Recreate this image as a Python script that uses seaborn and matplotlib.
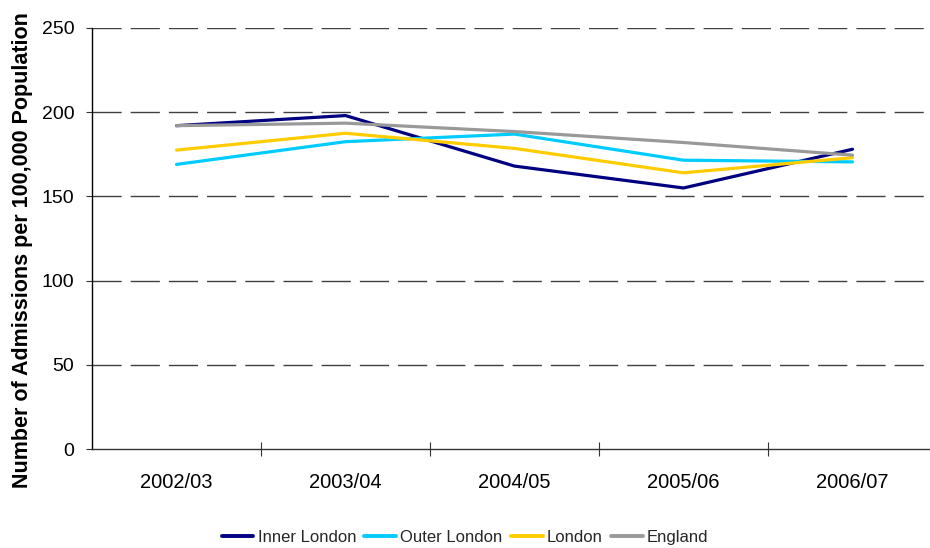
import matplotlib
matplotlib.use("Agg")
import matplotlib.pyplot as plt
import seaborn as sns
import pandas as pd
from matplotlib.ticker import FixedLocator

# Hospital admission rates per 100,000 population
years = ["2002/03", "2003/04", "2004/05", "2005/06", "2006/07"]
inner_london = [192, 198, 168, 155, 178]
outer_london = [169, 182.5, 187, 171.5, 170.5]
london = [177.5, 187.5, 178.5, 164, 173]
england = [192, 193.5, 188.5, 182, 174.5]

series_names = ["Inner London", "Outer London", "London", "England"]
series_values = [inner_london, outer_london, london, england]
colors = ["#000080", "#00CCFF", "#FFCC00", "#999999"]

frames = []
for name, vals in zip(series_names, series_values):
    frames.append(pd.DataFrame({"Year": years, "Area": name, "Rate": vals,
                                "pos": range(len(years))}))
df = pd.concat(frames, ignore_index=True)

sns.set_style("white")
plt.rcParams["font.family"] = ["Liberation Sans", "DejaVu Sans"]

fig = plt.figure(figsize=(9.3, 5.48), dpi=100)
ax = fig.add_axes([92 / 930, 1 - 449 / 548, 845 / 930, 421 / 548])

sns.lineplot(data=df, x="pos", y="Rate", hue="Area", hue_order=series_names,
             palette=colors, linewidth=2.3, ax=ax, legend=False)

ax.set_xlim(-0.5, len(years) - 0.5)
ax.set_ylim(0, 250)
ax.set_yticks([0, 50, 100, 150, 200, 250])

# Category labels at centres, tick marks between categories
ax.set_xticks(range(len(years)))
ax.set_xticklabels(years)
ax.xaxis.set_minor_locator(FixedLocator([0.5, 1.5, 2.5, 3.5]))
ax.tick_params(axis="x", which="major", length=0, pad=17, labelsize=14.5,
               colors="black")
ax.tick_params(axis="x", which="minor", direction="inout", length=9.5,
               width=0.8, color="#333333", bottom=True)
ax.tick_params(axis="y", which="major", direction="out", length=4.3,
               width=0.8, color="#333333", left=True, pad=8.5, labelsize=14,
               labelcolor="black")

# Dashed horizontal gridlines
for v in [50, 100, 150, 200, 250]:
    ax.axhline(v, color="#404040", linewidth=1.0, linestyle=(0, (21, 6.5)),
               zorder=0)

for side in ["top", "right"]:
    ax.spines[side].set_visible(False)
ax.spines["left"].set_color("black")
ax.spines["left"].set_linewidth(1.0)
ax.spines["bottom"].set_color("#333333")
ax.spines["bottom"].set_linewidth(1.0)

ax.set_xlabel("")
ax.set_ylabel("Number of Admissions per 100,000 Population", fontsize=15.5,
              fontweight="bold", color="black")
ax.yaxis.set_label_coords(-0.07, 0.473)

handles = [plt.Line2D([], [], color=c, linewidth=2.8) for c in colors]
fig.legend(handles, series_names, loc="center", bbox_to_anchor=(0.5, 0.02),
           ncol=4, frameon=False, fontsize=12, handlelength=1.9,
           handletextpad=0.25, columnspacing=0.5)

fig.savefig("out.png", dpi=100)
